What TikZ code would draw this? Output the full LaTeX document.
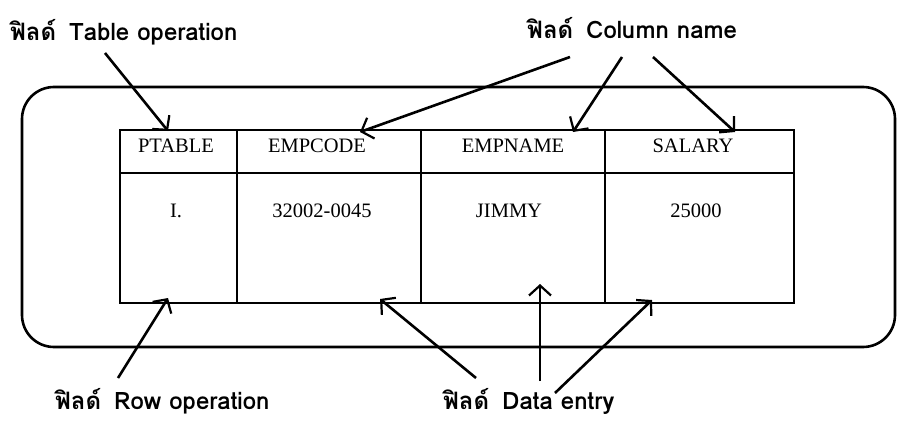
\documentclass[tikz,border=0pt]{standalone}
\usepackage{fontspec}
\setmainfont{Liberation Serif}
\newfontfamily\thaifont[Script=Thai]{Loma}
\usetikzlibrary{arrows.meta}
\newcommand{\fieldlabel}[1]{\textbf{ฟิลด์}\hspace{13pt}\textbf{#1}}
\tikzset{
  cell/.style={font=\fontsize{20.5}{22}\selectfont, inner sep=0pt},
  callout/.style={font=\thaifont\fontsize{24}{28}\selectfont, inner sep=0pt, anchor=base west},
  pointer/.style={line width=2.6pt, -{Straight Barb[length=10pt,width=22pt,line width=2.2pt]}},
  grid/.style={line width=2.2pt}
}
\begin{document}
\begin{tikzpicture}[x=1pt,y=-1pt]
\useasboundingbox (0,0) rectangle (912,420);
% outer frame
\draw[line width=2.6pt, rounded corners=32pt] (22,87) rectangle (895,347);
% table
\draw[grid] (120,130) rectangle (794,303);
\draw[grid] (120,173) -- (794,173);
\draw[grid] (237,130) -- (237,303);
\draw[grid] (421,130) -- (421,303);
\draw[grid] (605,130) -- (605,303);
% header cells
\node[cell] (h1) at (176,146) {PTABLE};
\node[cell] (h2) at (317,146) {EMPCODE};
\node[cell] (h3) at (513,146) {EMPNAME};
\node[cell] (h4) at (693,146) {SALARY};
% data cells
\node[cell] (d1) at (176,211) {I.};
\node[cell] (d2) at (322,211) {32002-0045};
\node[cell] (d3) at (509,211) {JIMMY};
\node[cell] (d4) at (696,211) {25000};
% callout labels
\node[callout] (ltab) at (10,41) {\fieldlabel{Table operation}};
\node[callout] (lcol) at (527,39) {\fieldlabel{Column name}};
\node[callout] (lrow) at (55,409) {\fieldlabel{Row operation}};
\node[callout] (ldat) at (443,409) {\fieldlabel{Data entry}};
% pointer ends
\coordinate (s1) at (105,53);   \coordinate (t1) at (168,131);
\coordinate (s2) at (570,57);   \coordinate (t2) at (360,132);
\coordinate (s3) at (622,57);   \coordinate (t3) at (573,132);
\coordinate (s4) at (653,57);   \coordinate (t4) at (735,132);
\coordinate (s5) at (118,378);  \coordinate (t5) at (168,298);
\coordinate (s6) at (476,378);  \coordinate (t6) at (380,299);
\coordinate (s7) at (540,381);  \coordinate (t7) at (540,284);
\coordinate (s8) at (555,393);  \coordinate (t8) at (652,300);
\foreach \i in {1,...,8} \draw[pointer] (s\i) -- (t\i);
\end{tikzpicture}
\end{document}
